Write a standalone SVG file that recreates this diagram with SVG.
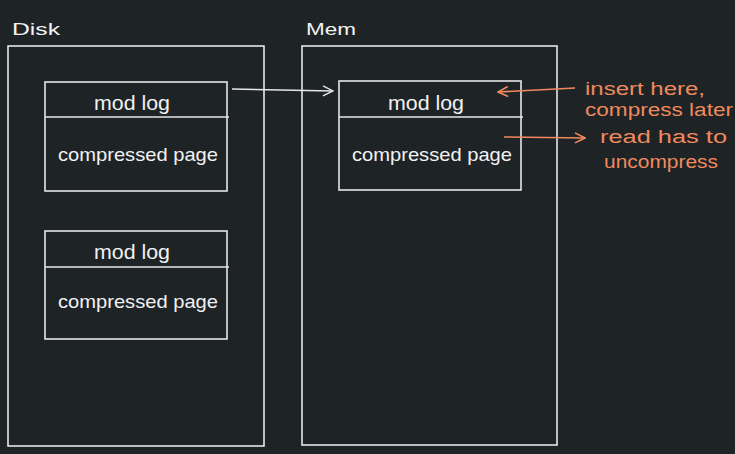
<svg xmlns="http://www.w3.org/2000/svg" width="735" height="454" viewBox="0 0 735 454">
<defs>
<style>
.bg{fill:#1e2326}
.box{fill:none;stroke:#e6e6e6;stroke-width:1.6}
.wt{fill:#f2f2f2;font-family:"Liberation Sans",Arial,sans-serif;font-size:19px}
.ml{fill:#f2f2f2;font-family:"Liberation Sans",Arial,sans-serif;font-size:21px}
.lbl{fill:#f2f2f2;font-family:"Liberation Sans",Arial,sans-serif;font-size:17px}
.ot{fill:#f0895d;font-family:"Liberation Sans",Arial,sans-serif;font-size:18px}
.wc{fill:none;stroke:#e6e6e6;stroke-width:1.4}
.oc{fill:none;stroke:#f0895d;stroke-width:1.6}
</style>
<marker id="aw" viewBox="0 0 12 12" refX="11" refY="6" markerWidth="12" markerHeight="12" markerUnits="userSpaceOnUse" orient="auto">
<path d="M1,1 L11,6 L1,11" fill="none" stroke="#e6e6e6" stroke-width="1.4"/>
</marker>
<marker id="ao" viewBox="0 0 12 12" refX="11" refY="6" markerWidth="12" markerHeight="12" markerUnits="userSpaceOnUse" orient="auto">
<path d="M1,1 L11,6 L1,11" fill="none" stroke="#f0895d" stroke-width="1.6"/>
</marker>
</defs>
<rect class="bg" x="0" y="0" width="735" height="454"/>

<g id="disk">
<rect class="box" x="8" y="46" width="256" height="400"/>
<text class="lbl" x="12" y="35" textLength="48" lengthAdjust="spacingAndGlyphs">Disk</text>
</g>
<g id="mem">
<rect class="box" x="302" y="46" width="255" height="399"/>
<text class="lbl" x="306" y="35" textLength="50" lengthAdjust="spacingAndGlyphs">Mem</text>
</g>

<g id="disk-page-1">
<rect class="box" x="45" y="82" width="182" height="109"/>
<line class="box" x1="45" y1="117" x2="229" y2="117"/>
<text class="ml" x="132" y="110" text-anchor="middle" textLength="76" lengthAdjust="spacingAndGlyphs">mod log</text>
<text class="wt" x="138" y="161" text-anchor="middle" textLength="160" lengthAdjust="spacingAndGlyphs">compressed page</text>
</g>

<g id="disk-page-2">
<rect class="box" x="45" y="231" width="182" height="108"/>
<line class="box" x1="45" y1="267" x2="229" y2="267"/>
<text class="ml" x="132" y="259" text-anchor="middle" textLength="76" lengthAdjust="spacingAndGlyphs">mod log</text>
<text class="wt" x="138" y="308" text-anchor="middle" textLength="160" lengthAdjust="spacingAndGlyphs">compressed page</text>
</g>

<g id="mem-page">
<rect class="box" x="339" y="81" width="182" height="109"/>
<line class="box" x1="339" y1="117" x2="523" y2="117"/>
<text class="ml" x="426" y="110" text-anchor="middle" textLength="76" lengthAdjust="spacingAndGlyphs">mod log</text>
<text class="wt" x="432" y="161" text-anchor="middle" textLength="160" lengthAdjust="spacingAndGlyphs">compressed page</text>
</g>

<g id="note-insert">
<text class="ot" x="585" y="95" textLength="120" lengthAdjust="spacingAndGlyphs">insert here,</text>
<text class="ot" x="585" y="116" textLength="148" lengthAdjust="spacingAndGlyphs">compress later</text>
</g>
<g id="note-read">
<text class="ot" x="600" y="143" textLength="127" lengthAdjust="spacingAndGlyphs">read has to</text>
<text class="ot" x="604" y="168" textLength="114" lengthAdjust="spacingAndGlyphs">uncompress</text>
</g>

<g id="connectors">
<path class="wc" d="M232,89 L333,91" marker-end="url(#aw)"/>
<path class="oc" d="M575,88 L498,92" marker-end="url(#ao)"/>
<path class="oc" d="M504,137 L585,138" marker-end="url(#ao)"/>
</g>
</svg>
